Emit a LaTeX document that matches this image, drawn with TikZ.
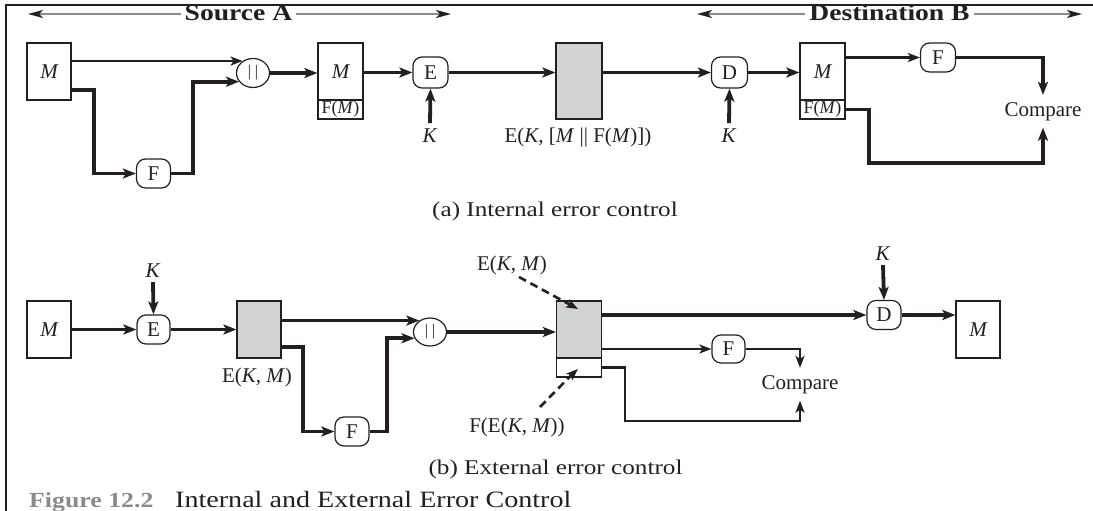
\documentclass[tikz,border=0pt]{standalone}
\usepackage{fontspec}
\setmainfont{Liberation Serif}
\newfontfamily\capfont{Liberation Serif}[FakeStretch=1.2]
\usetikzlibrary{arrows.meta,shapes.geometric}
\definecolor{ink}{HTML}{231F20}
\definecolor{boxgray}{HTML}{D1D3D4}
\definecolor{figgray}{HTML}{8A8A8A}
\definecolor{hdrgray}{HTML}{8C8C8C}
\tikzset{
 lbl/.style={font=\fontsize{21}{24}\selectfont, text=ink, inner sep=2pt},
 msgbox/.style={draw=ink, line width=1.2pt, minimum width=44pt, minimum height=57pt, inner sep=0pt, font=\fontsize{21}{24}\selectfont\itshape, text=ink},
 fmbox/.style={draw=ink, line width=1.2pt, minimum width=45pt, minimum height=19pt, inner sep=0pt, font=\fontsize{18}{20}\selectfont, text=ink},
 graybox/.style={draw=ink, line width=1.2pt, fill=boxgray, inner sep=0pt},
 fnbox/.style={draw=ink, line width=1.2pt, rounded corners=9pt, minimum width=34pt, minimum height=29pt, inner sep=0pt, font=\fontsize{21}{24}\selectfont, text=ink},
 catnode/.style={ellipse, draw=ink, line width=1.2pt, minimum width=33pt, minimum height=29pt, inner sep=0pt, font=\fontsize{16}{20}\selectfont, text=ink},
 thk/.style={draw=ink, line width=3.8pt, -{Stealth[length=13pt,width=10pt,inset=3pt]}},
 thn/.style={draw=ink, line width=2.5pt, -{Stealth[length=12pt,width=9pt,inset=3pt]}},
 dsh/.style={draw=ink, line width=2.6pt, dash pattern=on 8pt off 5pt, -{Stealth[length=12pt,width=9pt,inset=3pt]}},
 hdr/.style={font=\capfont\bfseries\fontsize{23}{26}\selectfont, text=ink, inner xsep=4pt, anchor=base},
 hdrarrow/.style={draw=hdrgray, line width=2pt, -{Stealth[length=15pt,width=8pt,inset=4pt,color=ink]}},
 captext/.style={font=\capfont\fontsize{21}{24}\selectfont, text=ink, anchor=base},
}
\begin{document}
\begin{tikzpicture}[x=1pt,y=-1pt]
\useasboundingbox (0,0) rectangle (1093,511);

% headers
\node[hdr] (srcA) at (238.5,21) {Source A};
\coordinate (srcL) at (28,14);
\coordinate (srcR) at (451,14);
\draw[hdrarrow] (srcA.west |- srcL) -- (srcL);
\draw[hdrarrow] (srcA.east |- srcR) -- (srcR);
\node[hdr] (dstB) at (889.5,21) {Destination B};
\coordinate (dstL) at (697,14);
\coordinate (dstR) at (1082,14);
\draw[hdrarrow] (dstB.west |- dstL) -- (dstL);
\draw[hdrarrow] (dstB.east |- dstR) -- (dstR);

% ---------- (a) ----------
\node[msgbox] (Ma) at (49,71.5) {M};
\node[catnode] (ORa) at (253,73) {|\hspace{4pt}|};
\node[fnbox] (Fa1) at (153.5,173.5) {F};
\node[msgbox, minimum width=45pt] (M2a) at (340.5,71.5) {M};
\node[fmbox, anchor=north] (FM2a) at ([yshift=1.2pt]M2a.south) {F(\textit{M})};
\node[fnbox, minimum width=35pt, minimum height=31pt] (Ea) at (430.5,72.5) {E};
\node[lbl, anchor=base, inner sep=5pt] (Ka) at (430,142) {\textit{K}};
\node[graybox, minimum width=46pt, minimum height=76pt] (Ga) at (579,81) {};
\node[lbl, anchor=base] (GaL) at (578,142) {E(\textit{K}, [\textit{M} || F(\textit{M})])};
\node[fnbox, minimum width=36pt, minimum height=31pt] (Da) at (729.5,72.5) {D};
\node[lbl, anchor=base, inner sep=5pt] (Kd) at (729,142) {\textit{K}};
\node[msgbox, minimum width=45pt] (M3a) at (822.5,71.5) {M};
\node[fmbox, anchor=north] (FM3a) at ([yshift=1.2pt]M3a.south) {F(\textit{M})};
\node[fnbox, minimum width=35pt, minimum height=29pt] (Fa2) at (938,57.5) {F};
\node[lbl, anchor=base, inner sep=7pt] (Cmpa) at (1043,116) {Compare};
\coordinate (cmpaB) at (1043,163);

\draw[thn] (Ma.east |- ORa.131) -- (ORa.131);
\draw[thk] ([yshift=-18.5pt]Ma.east) -- ++(22,0) |- (Fa1.west);
\draw[thk] (Fa1.east) -- ++(22,0) |- (ORa.212);
\draw[thk] (ORa.east) -- (ORa.east -| M2a.west);
\draw[thk] (M2a.east |- Ea.west) -- (Ea.west);
\draw[thk] (Ka.north) -- (Ea.south);
\draw[thk] (Ea.east) -- (Ea.east -| Ga.west);
\draw[thk] (Ga.east |- Da.west) -- (Da.west);
\draw[thk] (Kd.north) -- (Da.south);
\draw[thk] (Da.east) -- (Da.east -| M3a.west);
\draw[thn] (M3a.east |- Fa2.west) -- (Fa2.west);
\draw[thk] (Fa2.east) -| (Cmpa.north);
\draw[thk] (FM3a.east) -- ++(23,0) |- (cmpaB) -- (Cmpa.south);

\node[captext] (capA) at (555,216) {(a) Internal error control};

% ---------- (b) ----------
\node[msgbox] (Mb) at (49,329.5) {M};
\node[lbl, anchor=base, inner sep=5pt] (Kb) at (153,277) {\textit{K}};
\node[fnbox, minimum width=33pt] (Eb) at (153.5,329.5) {E};
\node[graybox, minimum width=44pt, minimum height=57pt] (Gb1) at (259,329.5) {};
\node[lbl, anchor=base] (Gb1L) at (257,382) {E(\textit{K}, \textit{M})};
\node[catnode, minimum height=28pt] (ORb) at (430,332) {|\hspace{4pt}|};
\node[fnbox] (Fb) at (352,431.5) {F};
\node[graybox, minimum width=45pt, minimum height=57pt] (Gb2) at (579,329.5) {};
\node[draw=ink, line width=1.2pt, minimum width=45pt, minimum height=19pt, inner sep=0pt, anchor=north] (Wb) at ([yshift=1.2pt]Gb2.south) {};
\node[lbl, anchor=base] (Ekm) at (512,270) {E(\textit{K}, \textit{M})};
\node[lbl, anchor=base] (FEkm) at (517,432) {F(E(\textit{K}, \textit{M}))};
\node[fnbox, minimum width=34pt] (Db) at (884,315) {D};
\node[lbl, anchor=base, inner sep=5pt] (Kb2) at (883,260) {\textit{K}};
\node[msgbox] (Mb2) at (978,329.5) {M};
\node[fnbox, minimum width=33pt, minimum height=28pt] (Fb2) at (728.5,349) {F};
\node[lbl, anchor=base, inner sep=7pt] (Cmpb) at (800,389) {Compare};
\coordinate (cmpbB) at (800,421);

\draw[thk] (Mb.east) -- (Eb.west);
\draw[thk] (Kb.south) -- (Eb.north);
\draw[thk] (Eb.east) -- (Gb1.west);
\draw[thk] (Gb1.east |- ORb.133) -- (ORb.133);
\draw[thk] ([yshift=-17.5pt]Gb1.east) -- ++(21,0) |- (Fb.west);
\draw[thk] (Fb.east) -- ++(17,0) |- (ORb.202);
\draw[thk] (ORb.east) -- (ORb.east -| Gb2.west);
\draw[thk] (Gb2.east |- Db.west) -- (Db.west);
\draw[thk] (Kb2.south) -- (Db.north);
\draw[thk] (Db.east) -- (Db.east -| Mb2.west);
\draw[thn] (Gb2.east |- Fb2.west) -- (Fb2.west);
\draw[thn] (Fb2.east) -| (Cmpb.north);
\draw[thn] (Wb.east) -- ++(23,0) |- (cmpbB) -- (Cmpb.south);
\draw[dsh] ([shift={(7,7)}]Ekm.base) -- ([shift={(-1,-20.5)}]Gb2.center);
\draw[dsh] ([shift={(23,-25)}]FEkm.base) -- ([shift={(-1,1.5)}]Wb.center);

\node[captext] (capB) at (555.5,474) {(b) External error control};

% figure caption
\node[anchor=base west, font=\capfont\bfseries\fontsize{21.5}{24}\selectfont, text=figgray, inner sep=0pt] (fig) at (29,507) {Figure 12.2};
\node[anchor=base west, font=\capfont\fontsize{23.4}{26}\selectfont, text=ink, inner sep=0pt] (figt) at (175,507) {Internal and External Error Control};

% frame
\draw[ink, line width=2pt] (6,511) -- (6,5) -- (1093,5);
\end{tikzpicture}
\end{document}
